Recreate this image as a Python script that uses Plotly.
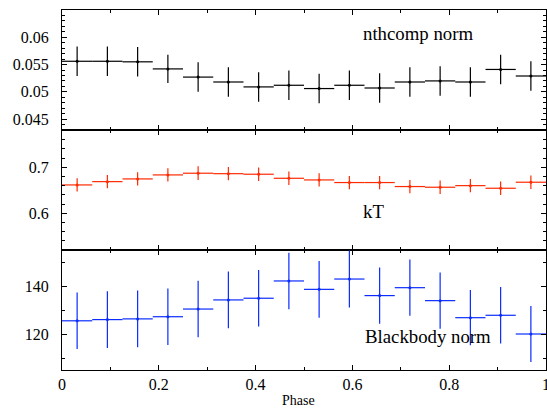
import plotly.graph_objects as go
from plotly.subplots import make_subplots

phase = [(i + 0.5) / 16 for i in range(16)]
phase_half_width = [1 / 32] * 16

nthcomp_norm = [0.0556, 0.0556, 0.0555, 0.0542, 0.0527, 0.0518, 0.0509, 0.0512,
                0.0506, 0.0512, 0.0507, 0.0518, 0.0520, 0.0518, 0.0541, 0.0529]
nthcomp_err = [0.0027, 0.0027, 0.0027, 0.0026, 0.0027, 0.0027, 0.0027, 0.0027,
               0.0027, 0.0027, 0.0027, 0.0027, 0.0027, 0.0027, 0.0027, 0.0027]

kT = [0.6615, 0.6687, 0.6746, 0.6833, 0.6870, 0.6860, 0.6848, 0.6760,
      0.6724, 0.6667, 0.6667, 0.6580, 0.6565, 0.6600, 0.6543, 0.6674]
kT_err = [0.0145, 0.0145, 0.0145, 0.0145, 0.0150, 0.0145, 0.0145, 0.0145,
          0.0145, 0.0145, 0.0145, 0.0145, 0.0145, 0.0145, 0.0145, 0.0145]

bb_norm = [125.5, 126.0, 126.3, 127.2, 130.4, 134.2, 134.9, 142.1,
           138.6, 142.9, 136.0, 139.3, 133.9, 126.8, 127.8, 120.0]
bb_err = [11.8, 11.8, 11.8, 11.8, 11.8, 11.8, 11.8, 11.8,
          11.8, 11.9, 11.7, 11.7, 11.7, 11.5, 11.8, 11.7]

x_ticks = [0, 0.2, 0.4, 0.6, 0.8, 1]
x_tick_labels = ["0", "0.2", "0.4", "0.6", "0.8", "1"]

y_ticks = [[0.045, 0.05, 0.055, 0.06], [0.6, 0.7], [120, 140]]
y_tick_labels = [["0.045", "0.05", "0.055", "0.06"], ["0.6", "0.7"], ["120", "140"]]

panel_labels = ["nthcomp norm", "kT", "Blackbody norm"]
x_title = "Phase"
colors = ["#000000", "#ff2a00", "#0a2cff"]

fig = make_subplots(rows=3, cols=1, shared_xaxes=True, vertical_spacing=0)

series = [(nthcomp_norm, nthcomp_err), (kT, kT_err), (bb_norm, bb_err)]
for i, (vals, errs) in enumerate(series):
    fig.add_trace(go.Scatter(
        x=phase, y=vals, mode="markers",
        marker=dict(color=colors[i], size=3),
        error_x=dict(type="data", array=phase_half_width, color=colors[i], thickness=1.2, width=0),
        error_y=dict(type="data", array=errs, color=colors[i], thickness=1.2, width=0),
        showlegend=False, cliponaxis=True, hoverinfo="skip",
    ), row=i + 1, col=1)

font_family = "Liberation Serif"
axis_common = dict(showline=True, linecolor="black", linewidth=1, mirror="allticks",
                   ticks="inside", ticklen=5, tickcolor="black", tickwidth=1,
                   showgrid=False, zeroline=False, automargin=False,
                   ticklabeloverflow="allow",
                   tickfont=dict(family=font_family, size=16, color="black"))

y_ranges = [[0.043, 0.065], [0.52, 0.781], [105, 155]]
y_minor = [0.001, 0.02, 10]
for i in range(3):
    fig.update_yaxes(range=y_ranges[i], tickvals=y_ticks[i], ticktext=y_tick_labels[i],
                     ticklabelstandoff=9,
                     minor=dict(tickmode="linear", tick0=y_ticks[i][0], dtick=y_minor[i],
                                ticklen=3, ticks="inside", tickcolor="black"),
                     **axis_common, row=i + 1, col=1)
    fig.update_xaxes(range=[0, 1], tickvals=x_ticks, ticktext=x_tick_labels,
                     minor=dict(tickmode="linear", tick0=0, dtick=0.1, ticklen=3,
                                ticks="inside", tickcolor="black"),
                     showticklabels=(i == 2), **axis_common, row=i + 1, col=1)

ann_pos = [(0.7355, 0.936), (0.6446, 0.439), (0.756, 0.0917)]
for (ax, ay), txt in zip(ann_pos, panel_labels):
    fig.add_annotation(x=ax, y=ay, xref="paper", yref="paper", text=txt, showarrow=False,
                       font=dict(family=font_family, size=18.8, color="black"),
                       xanchor="center", yanchor="middle")

fig.add_annotation(x=0.488, y=-0.085, xref="paper", yref="paper", text=x_title, showarrow=False,
                   font=dict(family=font_family, size=14, color="black"),
                   xanchor="center", yanchor="middle")

fig.update_layout(width=547, height=409,
                  margin=dict(l=62, r=1, t=10, b=39, autoexpand=False),
                  plot_bgcolor="white", paper_bgcolor="white")

fig.write_html("out.html", config={"displayModeBar": False},
               post_script="document.body.style.margin='0';")
